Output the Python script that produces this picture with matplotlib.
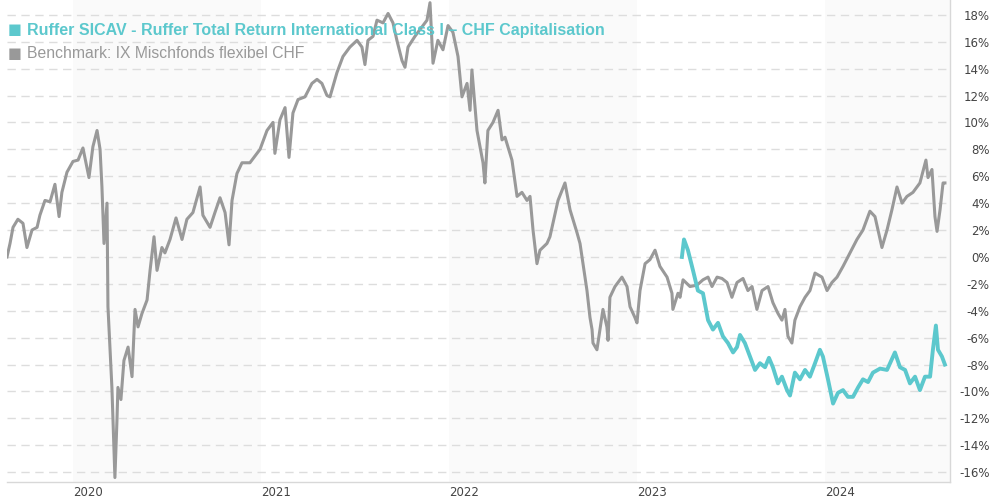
import matplotlib
matplotlib.use('Agg')
import matplotlib.pyplot as plt

# benchmark: IX Mischfonds flexibel CHF (fractional year, % performance)
bench_t = [2019.649, 2019.665, 2019.681, 2019.707, 2019.734, 2019.755, 2019.782, 2019.809, 2019.824,
	2019.851, 2019.878, 2019.904, 2019.926, 2019.941, 2019.968, 2020.000, 2020.027, 2020.053,
	2020.085, 2020.106, 2020.128, 2020.144, 2020.154, 2020.165, 2020.181, 2020.186, 2020.207,
	2020.223, 2020.234, 2020.239, 2020.255, 2020.271, 2020.293, 2020.314, 2020.330, 2020.346,
	2020.367, 2020.394, 2020.410, 2020.431, 2020.447, 2020.473, 2020.489, 2020.516, 2020.548,
	2020.580, 2020.606, 2020.638, 2020.676, 2020.691, 2020.729, 2020.755, 2020.782, 2020.809,
	2020.830, 2020.846, 2020.872, 2020.899, 2020.931, 2020.941, 2020.995, 2021.032, 2021.064,
	2021.074, 2021.101, 2021.128, 2021.149, 2021.170, 2021.197, 2021.234, 2021.271, 2021.298,
	2021.324, 2021.351, 2021.367, 2021.404, 2021.436, 2021.473, 2021.511, 2021.537, 2021.553,
	2021.569, 2021.596, 2021.617, 2021.649, 2021.676, 2021.702, 2021.723, 2021.750, 2021.766,
	2021.782, 2021.819, 2021.856, 2021.883, 2021.899, 2021.915, 2021.941, 2021.968, 2021.995,
	2022.021, 2022.048, 2022.069, 2022.096, 2022.112, 2022.122, 2022.149, 2022.181, 2022.191,
	2022.207, 2022.234, 2022.261, 2022.282, 2022.298, 2022.335, 2022.362, 2022.388, 2022.415,
	2022.431, 2022.447, 2022.468, 2022.484, 2022.521, 2022.537, 2022.553, 2022.580, 2022.617,
	2022.644, 2022.681, 2022.697, 2022.713, 2022.734, 2022.750, 2022.761, 2022.766, 2022.787,
	2022.803, 2022.819, 2022.840, 2022.846, 2022.856, 2022.883, 2022.920, 2022.947, 2022.963,
	2022.989, 2023.000, 2023.016, 2023.043, 2023.069, 2023.096, 2023.122, 2023.160, 2023.186,
	2023.191, 2023.218, 2023.229, 2023.245, 2023.282, 2023.319, 2023.351, 2023.378, 2023.399,
	2023.426, 2023.452, 2023.479, 2023.505, 2023.532, 2023.564, 2023.590, 2023.612, 2023.638,
	2023.665, 2023.697, 2023.723, 2023.750, 2023.771, 2023.787, 2023.803, 2023.824, 2023.840,
	2023.867, 2023.894, 2023.920, 2023.947, 2023.984, 2024.011, 2024.037, 2024.064, 2024.096,
	2024.133, 2024.170, 2024.202, 2024.239, 2024.266, 2024.303, 2024.330, 2024.356, 2024.383,
	2024.410, 2024.436, 2024.468, 2024.505, 2024.537, 2024.548, 2024.569, 2024.585, 2024.596,
	2024.612, 2024.628, 2024.638]
bench_v = [0.0, 1.0, 2.2, 2.8, 2.5, 0.7, 2.0, 2.2, 3.1,
	4.2, 4.1, 5.4, 3.0, 4.8, 6.3, 7.1, 7.2, 8.1,
	5.9, 8.2, 9.4, 8.0, 5.2, 1.0, 4.0, -3.7, -9.7,
	-16.4, -12.1, -9.7, -10.6, -7.7, -6.7, -8.9, -3.9, -5.2,
	-4.2, -3.2, -1.0, 1.5, -1.0, 0.7, 0.3, 1.3, 2.9,
	1.3, 2.8, 3.3, 5.2, 3.1, 2.2, 3.3, 4.4, 3.3,
	0.9, 4.2, 6.2, 7.0, 7.0, 7.0, 8.0, 9.4, 10.0,
	7.7, 10.2, 11.1, 7.4, 10.7, 11.7, 11.9, 12.9, 13.2,
	12.9, 12.0, 11.9, 13.7, 14.9, 15.6, 16.1, 15.6, 14.3,
	16.1, 16.4, 17.6, 17.4, 18.1, 17.4, 16.1, 14.6, 14.1,
	15.6, 16.4, 17.1, 17.6, 18.9, 14.4, 16.1, 15.4, 17.2,
	16.7, 14.9, 11.9, 12.9, 10.9, 13.9, 9.4, 7.0, 5.5,
	9.4, 10.0, 10.9, 8.7, 8.9, 7.2, 4.5, 4.8, 4.2,
	4.5, 2.0, -0.5, 0.5, 1.0, 1.5, 2.5, 4.2, 5.5,
	3.5, 1.8, 1.0, -0.5, -2.5, -4.5, -5.4, -6.4, -6.9,
	-5.4, -3.9, -5.2, -6.2, -3.0, -2.2, -1.5, -2.2, -3.7,
	-4.5, -4.9, -2.5, -0.5, -0.2, 0.5, -0.7, -1.5, -2.7,
	-3.9, -2.7, -3.0, -1.7, -2.2, -2.1, -1.7, -1.5, -2.2,
	-1.5, -1.6, -1.9, -3.0, -1.9, -1.6, -2.5, -2.2, -3.9,
	-2.5, -2.2, -3.4, -4.2, -4.7, -3.9, -5.9, -6.4, -4.7,
	-3.7, -3.0, -2.5, -1.2, -1.5, -2.5, -1.9, -1.5, -0.7,
	0.3, 1.3, 2.0, 3.4, 3.0, 0.7, 2.0, 3.5, 5.2,
	4.0, 4.5, 4.8, 5.5, 7.2, 5.9, 6.5, 3.0, 1.9,
	3.5, 5.5, 5.5]

# Ruffer Total Return International Class I - CHF Capitalisation
fund_t = [2023.239, 2023.250, 2023.271, 2023.298, 2023.324, 2023.351, 2023.378, 2023.404, 2023.431,
	2023.457, 2023.484, 2023.511, 2023.532, 2023.548, 2023.574, 2023.601, 2023.628, 2023.654,
	2023.681, 2023.702, 2023.723, 2023.750, 2023.771, 2023.798, 2023.814, 2023.840, 2023.867,
	2023.894, 2023.920, 2023.947, 2023.973, 2023.989, 2024.016, 2024.043, 2024.069, 2024.096,
	2024.122, 2024.149, 2024.176, 2024.202, 2024.229, 2024.255, 2024.293, 2024.330, 2024.372,
	2024.399, 2024.426, 2024.452, 2024.479, 2024.505, 2024.532, 2024.559, 2024.574, 2024.590,
	2024.601, 2024.622, 2024.638]
fund_v = [0.0, 1.3, 0.5, -1.0, -2.5, -2.7, -4.7, -5.4, -4.9,
	-5.9, -6.4, -7.1, -6.7, -5.8, -6.4, -7.4, -8.4, -7.9,
	-8.2, -7.5, -8.2, -9.4, -8.9, -9.9, -10.3, -8.6, -9.1,
	-8.4, -8.9, -7.9, -6.9, -7.4, -9.1, -10.9, -10.1, -9.9,
	-10.4, -10.4, -9.7, -9.1, -9.3, -8.6, -8.3, -8.4, -7.1,
	-8.2, -8.4, -9.4, -8.9, -9.9, -8.9, -8.9, -6.9, -5.1,
	-6.9, -7.4, -8.0]

years = [2020, 2021, 2022, 2023, 2024]
band_years = [2020, 2022, 2024]
yticks = list(range(-16, 19, 2))

teal = '#5cc8cd'
grey = '#999999'

fig = plt.figure(figsize=(9.9, 5), dpi=100)
ax = fig.add_axes([7 / 990, 18 / 500, 943 / 990, 482 / 500])

x0, x1 = 2019.649, 2024.665
for y in band_years:
	ax.axvspan(y, min(y + 1, x1), color='#fafafa', zorder=0, lw=0)

for v in yticks:
	ax.axhline(v, color='#dddddd', lw=1, dashes=(6, 4), zorder=1)

ax.plot(bench_t, bench_v, color=grey, lw=2.2, zorder=3, solid_joinstyle='round')
ax.plot(fund_t, fund_v, color=teal, lw=2.8, zorder=4, solid_joinstyle='round')

ax.set_xlim(x0, x1)
ax.set_ylim(-16.73, 19.1)

for s in ['top', 'left']:
	ax.spines[s].set_visible(False)
for s in ['right', 'bottom']:
	ax.spines[s].set_color('#d8d8d8')
	ax.spines[s].set_linewidth(1)

ax.yaxis.tick_right()
ax.set_yticks(yticks)
ax.set_yticklabels(['%d%%' % v for v in yticks])
ax.tick_params(axis='y', length=0, pad=28.5, labelsize=8.5, labelcolor='#444444')
for lbl in ax.get_yticklabels():
	lbl.set_ha('right')

ax.set_xticks(years)
ax.set_xticklabels([str(y) for y in years])
ax.tick_params(axis='x', length=0, pad=3, labelsize=8.5, labelcolor='#444444')
for lbl in ax.get_xticklabels():
	lbl.set_ha('left')

# legend at top left
fig.text(8 / 990, 1 - 30 / 500, '■', color=teal, fontsize=10.5, va='center', family='DejaVu Sans')
fig.text(27 / 990, 1 - 30 / 500, 'Ruffer SICAV - Ruffer Total Return International Class I – CHF Capitalisation',
	color=teal, fontsize=11.5, fontweight='bold', va='center', family='Liberation Sans')
fig.text(8 / 990, 1 - 53 / 500, '■', color=grey, fontsize=10.5, va='center', family='DejaVu Sans')
fig.text(27 / 990, 1 - 53 / 500, 'Benchmark: IX Mischfonds flexibel CHF',
	color=grey, fontsize=11.3, va='center', family='Liberation Sans')

fig.savefig('out.png', dpi=100)
